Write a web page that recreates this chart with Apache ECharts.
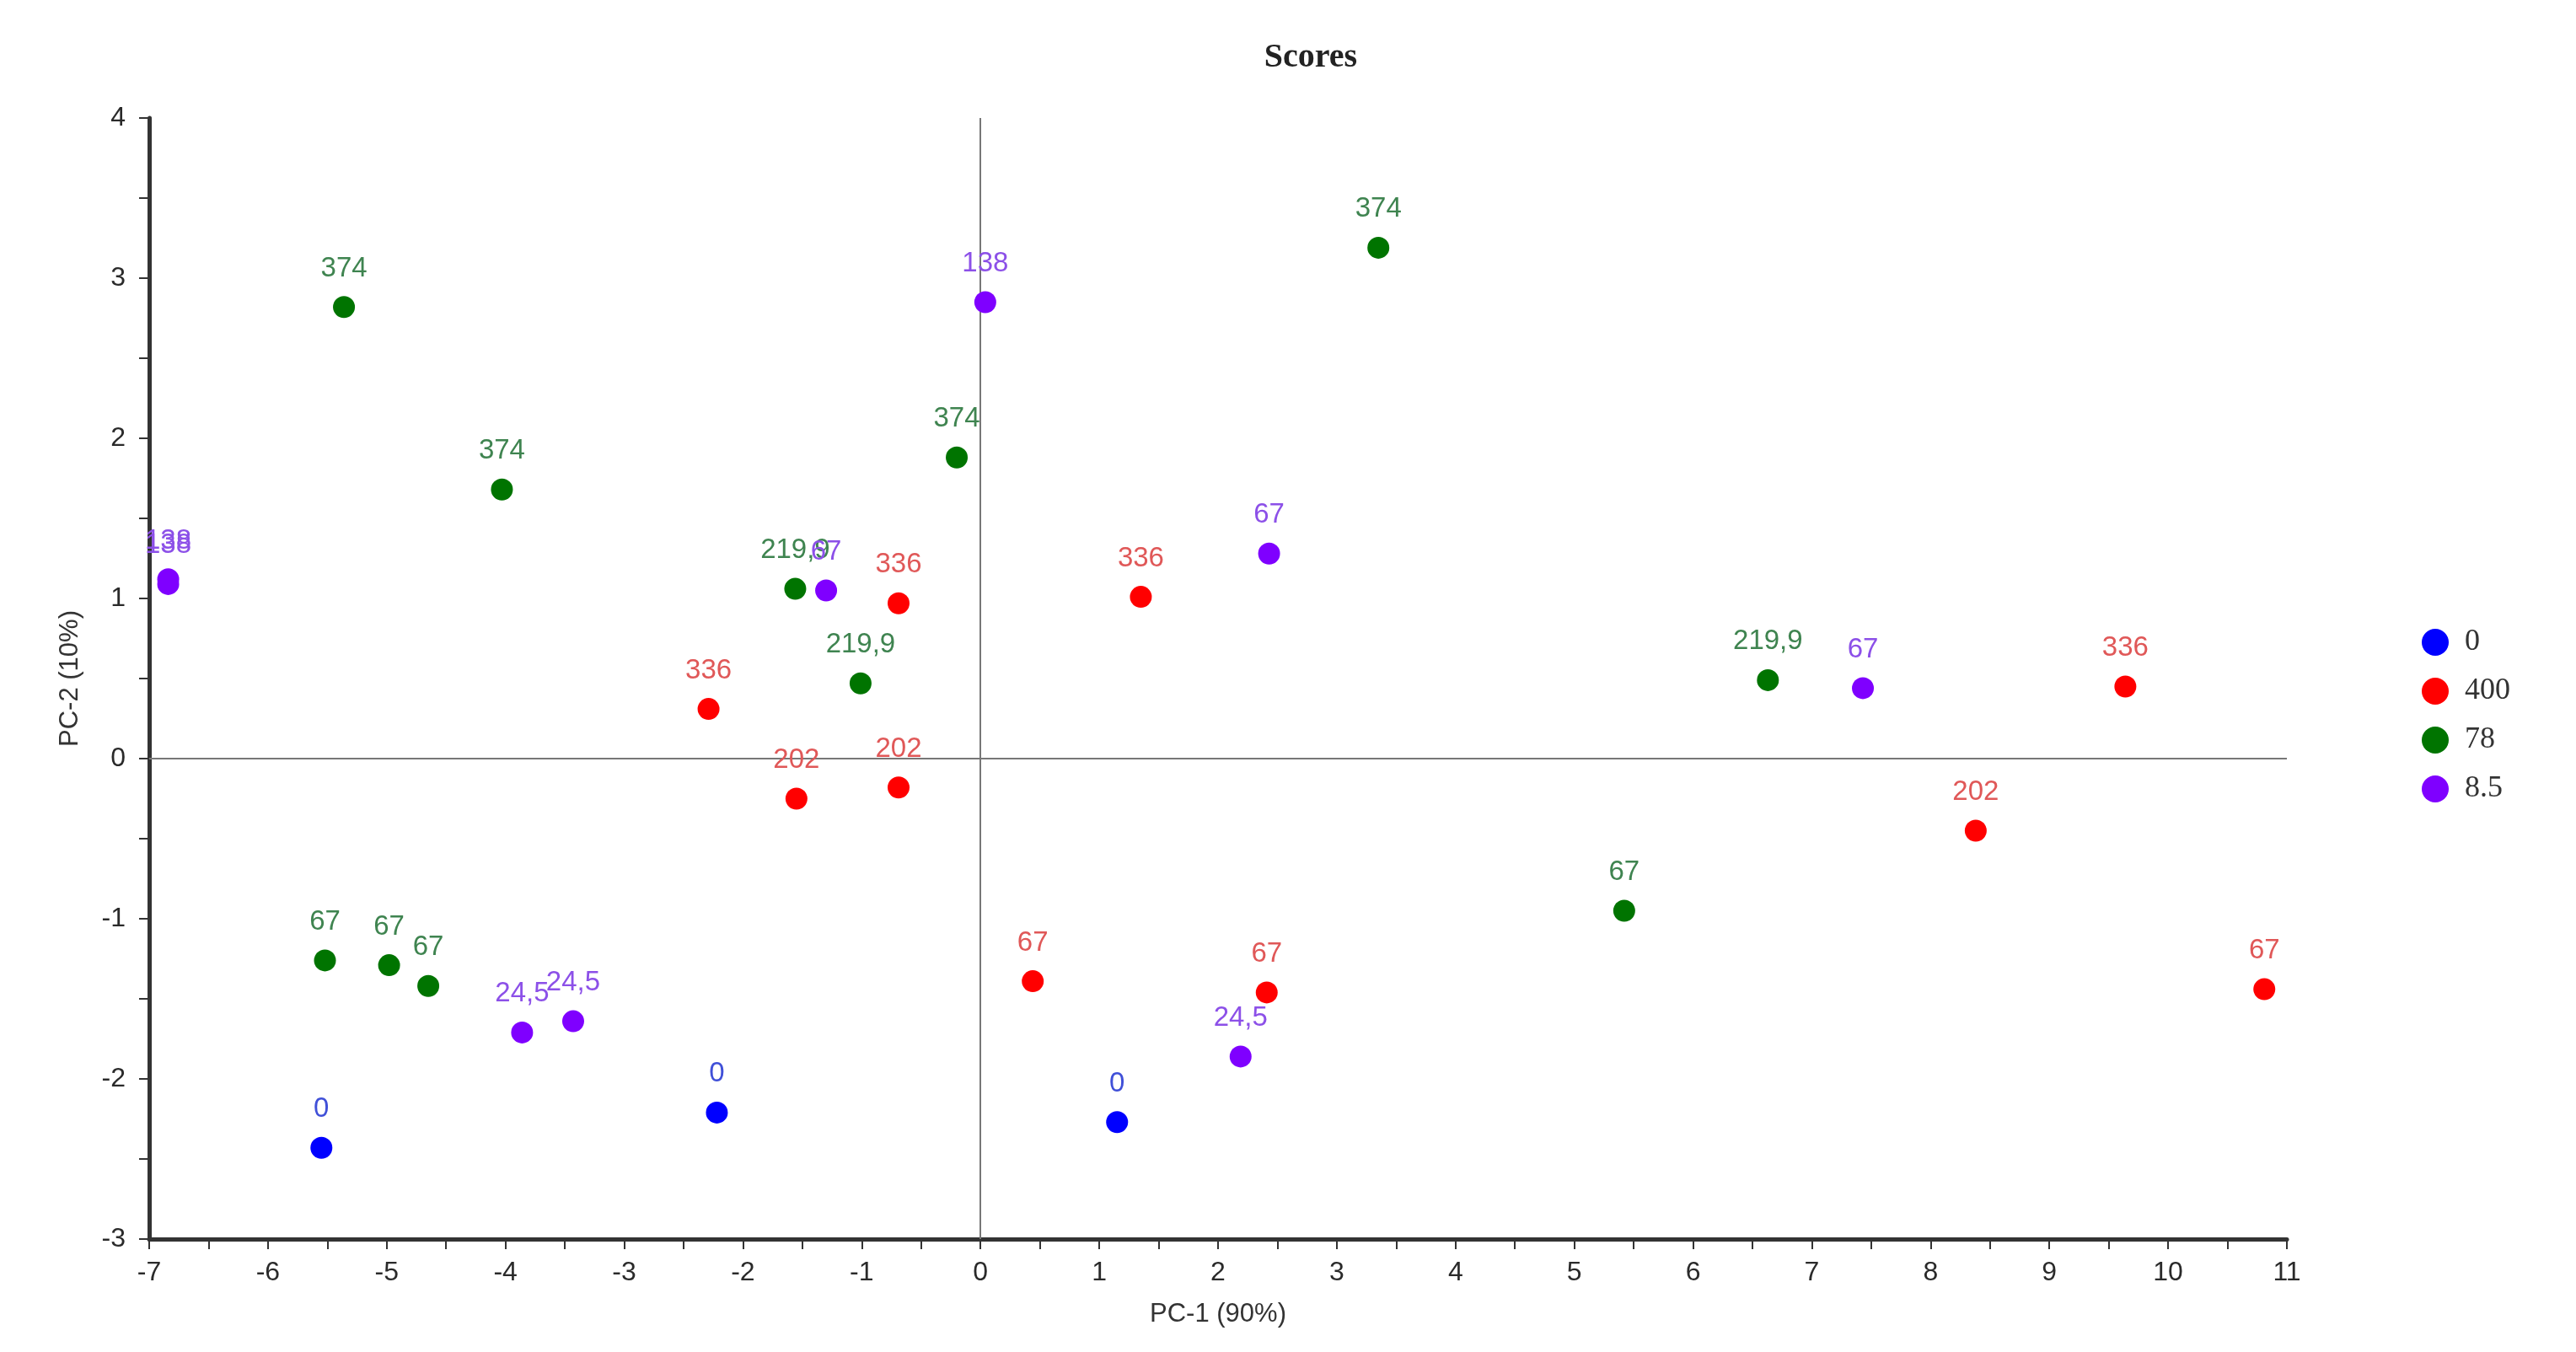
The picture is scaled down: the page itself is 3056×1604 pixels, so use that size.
<!DOCTYPE html>
<html>
<head>
<meta charset="utf-8">
<title>Scores</title>
<script src="https://cdn.jsdelivr.net/npm/echarts@6/dist/echarts.min.js"></script>
<style>
  html, body { margin: 0; padding: 0; background: #fff; }
  #chart { width: 3056px; height: 1604px; }
</style>
</head>
<body>
<div id="chart"></div>
<script>
// legend groups
var groups = ['0', '400', '78', '8.5'];
var pointColors = ['#0000ff', '#ff0000', '#007400', '#7f00ff'];
var labelColors = ['#4050d8', '#e05858', '#3f8450', '#8c50e8'];

// group "0"
var x0 = [-5.55, -2.22, 1.15];
var y0 = [-2.43, -2.21, -2.27];
var lab0 = ['0', '0', '0'];

// group "400"
var x400 = [-0.69, 1.35, -2.29, -1.55, -0.69, 0.44, 2.41, 8.38, 9.64, 10.81];
var y400 = [0.97, 1.01, 0.31, -0.25, -0.18, -1.39, -1.46, -0.45, 0.45, -1.44];
var lab400 = ['336', '336', '336', '202', '202', '67', '67', '202', '336', '67'];

// group "78"
var x78 = [-5.36, -4.03, -0.2, 3.35, -1.56, -1.01, 6.63, -5.52, -4.98, -4.65, 5.42];
var y78 = [2.82, 1.68, 1.88, 3.19, 1.06, 0.47, 0.49, -1.26, -1.29, -1.42, -0.95];
var lab78 = ['374', '374', '374', '374', '219,9', '219,9', '219,9', '67', '67', '67', '67'];

// group "8.5"
var x85 = [-6.84, -6.84, 0.04, -1.3, 2.43, 7.43, -3.86, -3.43, 2.19];
var y85 = [1.09, 1.12, 2.85, 1.05, 1.28, 0.44, -1.71, -1.64, -1.86];
var lab85 = ['138', '138', '138', '67', '67', '67', '24,5', '24,5', '24,5'];

// tick range
var xMin = -7, xMax = 11, yMin = -3, yMax = 4;

function pts(xs, ys, labs) {
  var out = [];
  for (var i = 0; i < xs.length; i++) out.push([xs[i], ys[i], labs[i]]);
  return out;
}

var groupData = [pts(x0, y0, lab0), pts(x400, y400, lab400), pts(x78, y78, lab78), pts(x85, y85, lab85)];

var series = groups.map(function (g, i) {
  var s = {
    name: g,
    type: 'scatter',
    symbolSize: 26,
    data: groupData[i],
    itemStyle: { color: pointColors[i], opacity: 1 },
    label: {
      show: true,
      position: 'top',
      distance: 16,
      formatter: function (p) { return p.value[2]; },
      color: labelColors[i],
      fontFamily: 'Liberation Sans, Arial, sans-serif',
      fontSize: 33
    },
    emphasis: { disabled: true },
    z: 3
  };
  if (i === 0) {
    // the two zero lines
    s.markLine = {
      silent: true,
      symbol: 'none',
      label: { show: false },
      lineStyle: { color: '#777', width: 2, type: 'solid' },
      data: [{ xAxis: 0 }, { yAxis: 0 }],
      z: 1
    };
  }
  return s;
});

var chart = echarts.init(document.getElementById('chart'));
var option = {
  backgroundColor: '#fff',
  animation: false,
  title: {
    text: 'Scores',
    left: 1550,
    top: 44,
    textAlign: 'center',
    textStyle: {
      fontFamily: 'Liberation Serif, Times New Roman, serif',
      fontWeight: 'bold',
      fontSize: 40,
      color: '#222'
    }
  },
  legend: {
    orient: 'vertical',
    left: 2868,
    top: 738,
    itemWidth: 32,
    itemHeight: 32,
    itemGap: 20,
    icon: 'circle',
    textStyle: {
      fontFamily: 'Liberation Serif, Times New Roman, serif',
      fontSize: 36,
      lineHeight: 38,
      color: '#333',
      padding: [0, 0, 0, 14]
    },
    data: groups
  },
  grid: { left: 177, right: 343, top: 140, bottom: 134 },
  xAxis: {
    type: 'value',
    min: xMin,
    max: xMax,
    interval: 1,
    name: 'PC-1 (90%)',
    nameLocation: 'middle',
    nameGap: 74,
    nameTextStyle: { fontFamily: 'Liberation Sans, Arial, sans-serif', fontSize: 31, color: '#333' },
    axisLine: { show: true, onZero: false, lineStyle: { color: '#333', width: 5 } },
    axisTick: { show: true, length: 12, lineStyle: { color: '#333', width: 2 } },
    minorTick: { show: true, splitNumber: 2, length: 12, lineStyle: { color: '#333', width: 2 } },
    axisLabel: { fontFamily: 'Liberation Sans, Arial, sans-serif', fontSize: 32, color: '#2a2a2a', margin: 24 },
    splitLine: { show: false }
  },
  yAxis: {
    type: 'value',
    min: yMin,
    max: yMax,
    interval: 1,
    name: 'PC-2 (10%)',
    nameLocation: 'middle',
    nameGap: 78,
    nameTextStyle: { fontFamily: 'Liberation Sans, Arial, sans-serif', fontSize: 31, color: '#333' },
    axisLine: { show: true, onZero: false, lineStyle: { color: '#333', width: 5 } },
    axisTick: { show: true, length: 12, lineStyle: { color: '#333', width: 2 } },
    minorTick: { show: true, splitNumber: 2, length: 12, lineStyle: { color: '#333', width: 2 } },
    axisLabel: { fontFamily: 'Liberation Sans, Arial, sans-serif', fontSize: 32, color: '#2a2a2a', margin: 28 },
    splitLine: { show: false }
  },
  series: series
};
chart.setOption(option);
</script>
</body>
</html>
